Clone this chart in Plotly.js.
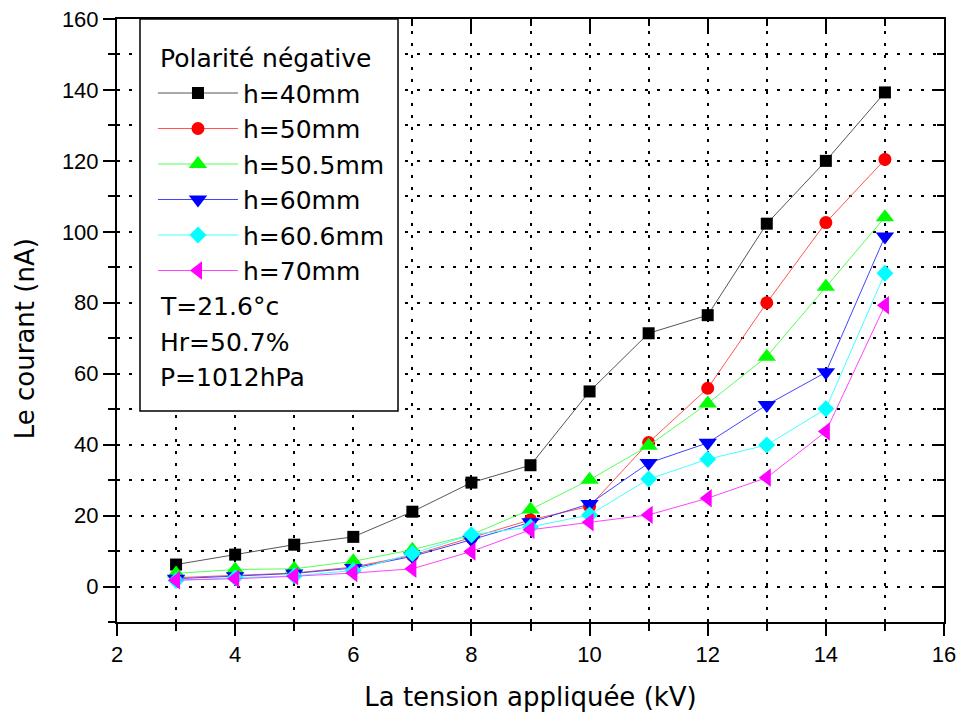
<!DOCTYPE html>
<html>
<head>
<meta charset="utf-8">
<script src="https://cdn.plot.ly/plotly-3.0.1.min.js"></script>
<style>html,body{margin:0;padding:0;background:#fff;}#chart{width:963px;height:716px;}</style>
</head>
<body>
<div id="chart"></div>
<script>
const voltage = [3, 4, 5, 6, 7, 8, 9, 10, 11, 12, 13, 14, 15];
const h40   = [6.2, 9.0, 11.8, 14.0, 21.1, 29.3, 34.2, 55.0, 71.4, 76.5, 102.3, 120.0, 139.3];
const h50   = [2.5, 3.2, 3.8, 5.5, 8.8, 13.8, 18.8, 22.6, 40.6, 55.9, 80.0, 102.6, 120.4];
const h50_5 = [3.7, 4.8, 5.0, 7.1, 10.4, 14.6, 21.7, 30.1, 39.7, 51.6, 64.8, 84.5, 104.1];
const h60   = [2.2, 2.9, 3.7, 5.2, 8.5, 13.2, 18.1, 23.3, 34.8, 40.5, 51.2, 60.4, 98.7];
const h60_6 = [1.7, 2.5, 3.0, 4.5, 9.3, 14.6, 16.8, 20.2, 30.3, 35.9, 39.9, 50.1, 88.3];
const h70   = [1.8, 2.2, 2.9, 3.8, 5.0, 9.9, 16.0, 18.1, 20.2, 24.9, 30.7, 43.7, 79.3];

const seriesNames = ['h=40mm', 'h=50mm', 'h=50.5mm', 'h=60mm', 'h=60.6mm', 'h=70mm'];
const seriesData = [h40, h50, h50_5, h60, h60_6, h70];
const seriesColors = ['#000000', '#ff0000', '#00ff00', '#0000ff', '#00ffff', '#ff00ff'];
const lineColors = ['#555555', '#ff5555', '#55ff55', '#4444ff', '#44ffff', '#ff44ff'];
const seriesSymbols = ['square', 'circle', 'triangle-up', 'triangle-down', 'diamond', 'triangle-left'];
const seriesSizes = [12, 13, 16, 16, 13, 16];
const legendTitle = 'Polarité négative';
const conditions = ['T=21.6°c', 'Hr=50.7%', 'P=1012hPa'];

const TICKFONT = 'Liberation Sans, Arial, sans-serif';
const TEXTFONT = 'DejaVu Sans, sans-serif';

const traces = seriesData.map((ys, i) => ({
  x: voltage, y: ys, name: seriesNames[i], type: 'scatter', mode: 'lines+markers',
  line: {color: lineColors[i], width: 1},
  marker: {symbol: seriesSymbols[i], color: seriesColors[i], size: seriesSizes[i], line: {width: 0}},
  xaxis: 'x', yaxis: 'y'
}));

// invisible helper trace so the mirrored frame axes (inside ticks) are drawn
traces.push({x: [2], y: [-10], xaxis: 'x2', yaxis: 'y2', mode: 'markers', marker: {opacity: 0}, showlegend: false, hoverinfo: 'skip'});

const axisCommon = {
  showline: true, linecolor: '#000', linewidth: 2, zeroline: false,
  tickcolor: '#000', tickwidth: 2, ticklen: 12,
  tickfont: {family: TICKFONT, size: 22, color: '#000'}
};
const GRIDDASH = '3px,9px';

const layout = {
  width: 963, height: 716,
  margin: {l: 117, r: 19, t: 19, b: 94},
  paper_bgcolor: '#fff', plot_bgcolor: '#fff',
  font: {family: TEXTFONT, color: '#000'},
  showlegend: true,
  legend: {
    x: 0.0435, y: 0.915, xanchor: 'left', yanchor: 'top',
    bgcolor: 'rgba(0,0,0,0)', borderwidth: 0,
    font: {family: TEXTFONT, size: 25, color: '#000'},
    itemwidth: 80, tracegroupgap: 0
  },
  xaxis: Object.assign({}, axisCommon, {
    range: [2, 16], dtick: 2, tick0: 2, ticks: 'outside',
    showgrid: true, gridcolor: '#000', gridwidth: 2, griddash: GRIDDASH,
    minor: {dtick: 1, ticks: 'outside', ticklen: 7, tickwidth: 2, tickcolor: '#000', showgrid: true, gridcolor: '#000', gridwidth: 2, griddash: GRIDDASH},
    title: {text: 'La tension appliquée (kV)', font: {family: TEXTFONT, size: 26, color: '#000'}, standoff: 21}
  }),
  yaxis: Object.assign({}, axisCommon, {
    range: [-10, 160], dtick: 20, tick0: 0, ticks: 'outside',
    showgrid: true, gridcolor: '#000', gridwidth: 2, griddash: GRIDDASH,
    minor: {dtick: 10, ticks: 'outside', ticklen: 7, tickwidth: 2, tickcolor: '#000', showgrid: true, gridcolor: '#000', gridwidth: 2, griddash: GRIDDASH}
  }),
  xaxis2: Object.assign({}, axisCommon, {
    overlaying: 'x', side: 'top', range: [2, 16], dtick: 2, tick0: 2, ticks: 'inside', showticklabels: false, showgrid: false,
    minor: {dtick: 1, ticks: 'inside', ticklen: 7, tickwidth: 2, tickcolor: '#000', showgrid: false}
  }),
  yaxis2: Object.assign({}, axisCommon, {
    overlaying: 'y', side: 'right', range: [-10, 160], dtick: 20, tick0: 0, ticks: 'inside', showticklabels: false, showgrid: false,
    minor: {dtick: 10, ticks: 'inside', ticklen: 7, tickwidth: 2, tickcolor: '#000', showgrid: false}
  }),
  shapes: [{
    type: 'rect', xref: 'paper', yref: 'paper',
    x0: 0.0278, x1: 0.3398, y0: 0.35, y1: 1.0,
    line: {color: '#000', width: 1.5}, fillcolor: '#fff', layer: 'above'
  }],
  annotations: [
    {text: legendTitle, xref: 'paper', yref: 'paper', x: 0.0495, y: 0.9353, xanchor: 'left', yanchor: 'middle', showarrow: false, font: {family: TEXTFONT, size: 25, color: '#000'}},
    {text: conditions[0], xref: 'paper', yref: 'paper', x: 0.0495, y: 0.524, xanchor: 'left', yanchor: 'middle', showarrow: false, font: {family: TEXTFONT, size: 25, color: '#000'}},
    {text: conditions[1], xref: 'paper', yref: 'paper', x: 0.0495, y: 0.4643, xanchor: 'left', yanchor: 'middle', showarrow: false, font: {family: TEXTFONT, size: 25, color: '#000'}},
    {text: conditions[2], xref: 'paper', yref: 'paper', x: 0.0495, y: 0.4063, xanchor: 'left', yanchor: 'middle', showarrow: false, font: {family: TEXTFONT, size: 25, color: '#000'}},
    {text: 'Le courant (nA)', xref: 'paper', yref: 'paper', x: -0.1112, y: 0.469, xanchor: 'center', yanchor: 'middle', textangle: -90, showarrow: false, font: {family: TEXTFONT, size: 26, color: '#000'}}
  ]
};

Plotly.newPlot('chart', traces, layout, {displayModeBar: false, staticPlot: true});
</script>
</body>
</html>
